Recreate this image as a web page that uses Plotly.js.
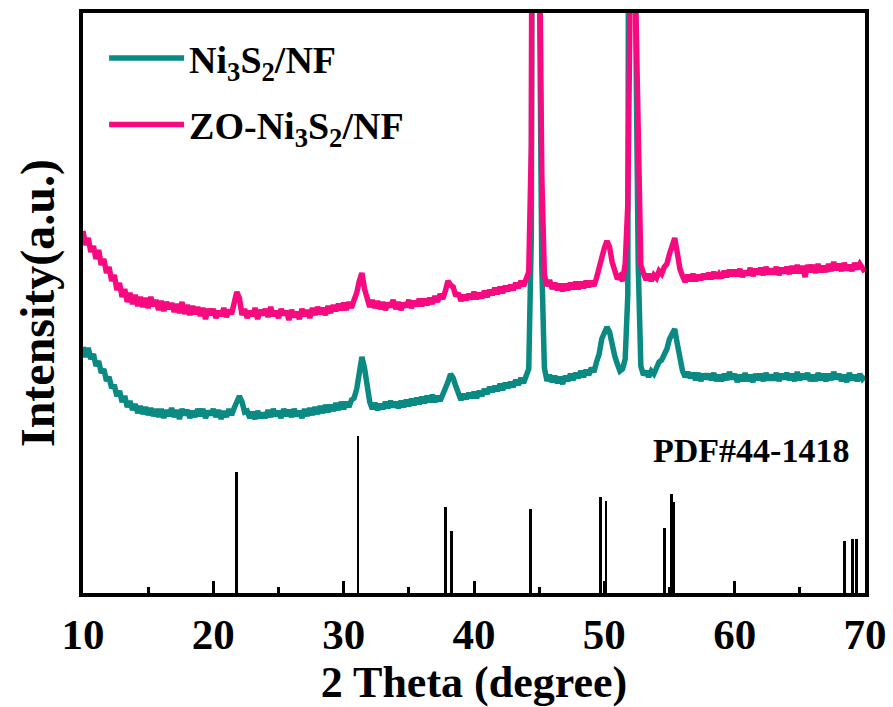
<!DOCTYPE html>
<html>
<head>
<meta charset="utf-8">
<script src="https://cdn.plot.ly/plotly-3.0.1.min.js"></script>
<style>
html,body{margin:0;padding:0;background:#fff;}
#chart{width:893px;height:707px;}
</style>
</head>
<body>
<div id="chart"></div>
<script>
// 2θ scan grid: 10° to 70°, step 0.2°
const scanStart = 10, scanStep = 0.2, scanCount = 301;
const twoTheta = Array.from({length: scanCount}, (_, i) => +(scanStart + scanStep * i).toFixed(1));

// Ni3S2/NF intensity (a.u.)
const ni3s2 = [
248,238,247,236,241, 229,234,222,226,214, 218,207,210,199,204, 193,199,188,194,185,
191,182,189,181,188, 180,187,179,186,178, 186,177,185,179,187, 178,185,176,186,180,
185,177,184,178,186, 179,186,177,184,180, 186,178,185,176,184, 178,186,180,187,194,
199,193,183,184,177, 183,176,184,177,182, 177,185,178,186,179, 184,177,186,179,185,
178,186,179,184,177, 186,179,187,180,188, 181,189,182,190,183, 190,184,192,185,193,
186,193,188,195,197, 206,226,238,227,204, 193,186,192,185,191, 186,193,187,194,188,
193,187,194,188,195, 189,196,190,197,191, 198,192,199,193,200, 193,199,194,200,204,
213,221,217,209,201, 195,201,196,202,197, 203,197,204,199,206, 201,208,203,209,204,
211,205,212,207,213, 208,215,210,217,212, 219,226,360,650,3000, 650,330,227,214,220,
213,219,212,218,211, 219,214,221,215,222, 217,224,218,225,220, 227,223,233,241,256,
263,268,263,249,239, 231,224,226,236,300, 560,3000,580,330,229, 220,224,218,224,221,
227,233,235,241,246, 256,262,266,251,236, 224,218,223,217,222, 215,222,214,221,216,
221,215,222,214,220, 214,221,215,223,216, 221,213,220,214,222, 214,220,213,221,215,
221,214,222,215,220, 215,222,214,221,216, 222,215,221,214,223, 215,221,216,222,214,
220,214,222,215,221, 214,221,215,223,216, 221,214,220,213,222, 215,220,214,221,216,
219
];

// ZO-Ni3S2/NF intensity (a.u.)
const zoNi3s2 = [
364,350,357,343,349, 336,345,330,336,322, 328,314,320,305,312, 298,306,293,302,291,
300,289,298,288,297, 287,298,289,295,285, 294,284,293,286,292, 283,291,282,293,281,
290,280,289,281,288, 279,287,276,286,280, 286,277,284,279,287, 278,285,281,292,303,
297,280,286,277,284, 279,287,276,285,280, 286,278,288,279,284, 277,286,280,284,275,
285,278,283,276,286, 279,285,277,287,280, 288,281,287,280,289, 282,290,284,291,285,
292,285,293,287,295, 302,314,322,306,297, 288,295,287,294,286, 293,285,292,288,295,
286,293,285,292,288, 295,287,294,289,296, 289,296,290,297,291, 299,293,301,296,304,
314,310,308,299,302, 294,300,295,301,296, 303,296,302,297,304, 298,305,300,307,301,
308,302,309,304,310, 305,312,307,314,309, 318,323,450,700,3000, 700,420,320,309,315,
306,312,305,311,304, 311,305,312,306,313, 306,313,307,314,308, 314,309,317,328,337,
347,354,348,333,326, 316,319,314,331,390, 620,3000,600,420,330, 322,315,321,314,320,
317,324,321,328,331, 341,350,357,342,326, 319,313,320,314,321, 314,320,315,321,316,
322,316,323,317,321, 317,324,318,325,319, 325,319,326,318,324, 320,327,319,326,321,
327,320,328,321,326, 321,328,320,327,322, 328,321,329,322,330, 322,329,318,330,323,
330,322,331,323,329, 323,331,324,333,325, 331,324,332,325,330, 324,332,326,331,327,
323
];

// PDF#44-1418 reference lines (2θ, relative intensity)
const pdfAngles = [21.75, 31.10, 37.78, 38.27, 44.35, 49.73, 50.13, 54.60, 55.16, 55.33, 68.40, 69.05, 69.35];
const pdfHeights = [123, 159, 88, 64, 86, 98, 94, 67, 101, 93, 54, 56, 56];

const seriesNames = ['Ni<sub>3</sub>S<sub>2</sub>/NF', 'ZO-Ni<sub>3</sub>S<sub>2</sub>/NF'];
const xTickVals = [10, 20, 30, 40, 50, 60, 70];
const pdfLabel = 'PDF#44-1418';

const FONT = 'Liberation Serif, Times New Roman, serif';

const traces = [
  {
    x: twoTheta, y: ni3s2, type: 'scatter', mode: 'lines',
    name: seriesNames[0], legendgroup: 'a',
    line: {color: '#0B8A84', width: 5.5, shape: 'linear'}
  },
  {
    x: twoTheta, y: zoNi3s2, type: 'scatter', mode: 'lines',
    name: seriesNames[1], legendgroup: 'b',
    line: {color: '#F70A80', width: 5.5, shape: 'linear'}
  },
  {
    x: pdfAngles, y: pdfHeights, type: 'bar', width: 0.22,
    marker: {color: '#000', line: {width: 0}},
    showlegend: false, hoverinfo: 'x'
  }
];

const layout = {
  width: 893, height: 707,
  margin: {l: 83, r: 28, t: 13, b: 114},
  paper_bgcolor: '#fff', plot_bgcolor: '#fff',
  font: {family: FONT, color: '#000', weight: 'bold'},
  showlegend: true,
  legend: {
    x: 0.027, y: 0.976, xanchor: 'left', yanchor: 'top',
    bgcolor: 'rgba(0,0,0,0)', borderwidth: 0,
    font: {family: FONT, size: 38, weight: 'bold', color: '#000'},
    traceorder: 'grouped', tracegroupgap: 14, itemwidth: 75
  },
  xaxis: {
    range: [10, 70], tickvals: xTickVals, ticktext: xTickVals.map(String),
    ticks: 'inside', ticklen: 12, tickwidth: 3, tickcolor: '#000',
    minor: {dtick: 5, tick0: 10, ticks: 'inside', ticklen: 6, tickwidth: 3, tickcolor: '#000'},
    showline: true, linewidth: 4, linecolor: '#000', mirror: true,
    showgrid: false, zeroline: false,
    tickfont: {family: FONT, size: 43, weight: 'bold'},
    title: {text: '2 Theta (degree)', font: {family: FONT, size: 44, weight: 'bold'}, standoff: 0}
  },
  yaxis: {
    range: [2, 582], showticklabels: false, ticks: '',
    showline: true, linewidth: 4, linecolor: '#000', mirror: true,
    showgrid: false, zeroline: false,
    title: {text: 'Intensity(a.u.)', font: {family: FONT, size: 48, weight: 'bold'}, standoff: 10}
  },
  bargap: 0,
  annotations: [{
    text: pdfLabel, x: 68.9, y: 145, xref: 'x', yref: 'y',
    xanchor: 'right', yanchor: 'middle', showarrow: false,
    font: {family: FONT, size: 34, weight: 'bold', color: '#000'}
  }]
};

Plotly.newPlot('chart', traces, layout, {displayModeBar: false, staticPlot: true});
</script>
</body>
</html>
